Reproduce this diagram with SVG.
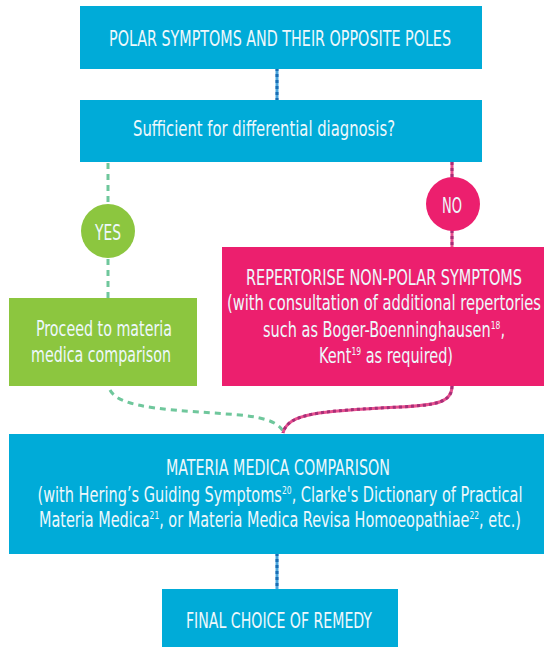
<svg xmlns="http://www.w3.org/2000/svg" width="544" height="647" viewBox="0 0 544 647">
<style>
.blue{fill:#00abd8}
.green{fill:#8cc63f}
.pink{fill:#ec1f6e}
text{font-family:"Liberation Sans Narrow","DejaVu Sans Condensed","Liberation Sans",sans-serif;font-size:21px;fill:#eef8fc;text-anchor:middle}
.sup{font-size:11px}
.bl{stroke:#4aa6de;stroke-width:3;fill:none}
.blo{stroke:#1a6db3;stroke-width:3;fill:none;stroke-dasharray:3 3}
.pk{stroke:#e8508f;stroke-width:3;fill:none}
.pko{stroke:#a52f78;stroke-width:3;fill:none;stroke-dasharray:3 3}
.gr{stroke:#6fc79c;stroke-width:3;fill:none;stroke-dasharray:6 5}
</style>
<g id="connectors">
<line class="bl" x1="277" y1="68" x2="277" y2="101"/>
<line class="blo" x1="277" y1="68" x2="277" y2="101"/>
<line class="gr" x1="108" y1="163" x2="108" y2="204"/>
<line class="gr" x1="108" y1="259" x2="108" y2="298"/>
<line class="pk" x1="452" y1="162" x2="452" y2="178"/>
<line class="pko" x1="452" y1="162" x2="452" y2="178"/>
<line class="pk" x1="452" y1="230" x2="452" y2="247"/>
<line class="pko" x1="452" y1="230" x2="452" y2="247"/>
<path class="gr" d="M110,390 C120,410 180,410 240,415 C270,418 280,424 284,433"/>
<path class="pk" d="M452,386 C452,402 438,405 400,407 C320,411 288,413 283,433"/>
<path class="pko" d="M452,386 C452,402 438,405 400,407 C320,411 288,413 283,433"/>
<line class="bl" x1="277" y1="553" x2="277" y2="589"/>
<line class="blo" x1="277" y1="553" x2="277" y2="589"/>
</g>
<g id="polar">
<rect class="blue" x="80" y="6" width="402" height="63"/>
<text x="280" y="46" textLength="342" lengthAdjust="spacingAndGlyphs">POLAR SYMPTOMS AND THEIR OPPOSITE POLES</text>
</g>
<g id="sufficient">
<rect class="blue" x="80" y="100" width="402" height="62"/>
<text x="264" y="136" textLength="262" lengthAdjust="spacingAndGlyphs">Sufficient for differential diagnosis?</text>
</g>
<g id="yes">
<circle class="green" cx="108" cy="231" r="27"/>
<text x="108" y="240" textLength="26" lengthAdjust="spacingAndGlyphs">YES</text>
</g>
<g id="no">
<circle class="pink" cx="453" cy="204" r="27"/>
<text x="452" y="213" textLength="20" lengthAdjust="spacingAndGlyphs">NO</text>
</g>
<g id="proceed">
<rect class="green" x="9" y="298" width="188" height="88"/>
<text x="104" y="336" textLength="136" lengthAdjust="spacingAndGlyphs">Proceed to materia</text>
<text x="101" y="362" textLength="140" lengthAdjust="spacingAndGlyphs">medica comparison</text>
</g>
<g id="repertorise">
<rect class="pink" x="222" y="247" width="322" height="139"/>
<text x="384" y="285" textLength="276" lengthAdjust="spacingAndGlyphs">REPERTORISE NON-POLAR SYMPTOMS</text>
<text x="384" y="310" textLength="314" lengthAdjust="spacingAndGlyphs">(with consultation of additional repertories</text>
<text x="384" y="337" textLength="242" lengthAdjust="spacingAndGlyphs">such as Boger-Boenninghausen<tspan class="sup" dy="-8">18</tspan><tspan dy="8">,</tspan></text>
<text x="386" y="363" textLength="134" lengthAdjust="spacingAndGlyphs">Kent<tspan class="sup" dy="-8">19</tspan><tspan dy="8"> as required)</tspan></text>
</g>
<g id="materia">
<rect class="blue" x="9" y="434" width="535" height="120"/>
<text x="278" y="475" textLength="224" lengthAdjust="spacingAndGlyphs">MATERIA MEDICA COMPARISON</text>
<text x="280" y="502" textLength="485" lengthAdjust="spacingAndGlyphs">(with Hering’s Guiding Symptoms<tspan class="sup" dy="-8">20</tspan><tspan dy="8">, Clarke's Dictionary of Practical</tspan></text>
<text x="280" y="527" textLength="482" lengthAdjust="spacingAndGlyphs">Materia Medica<tspan class="sup" dy="-8">21</tspan><tspan dy="8">, or Materia Medica Revisa Homoeopathiae</tspan><tspan class="sup" dy="-8">22</tspan><tspan dy="8">, etc.)</tspan></text>
</g>
<g id="final">
<rect class="blue" x="162" y="589" width="236" height="58"/>
<text x="279" y="628" textLength="186" lengthAdjust="spacingAndGlyphs">FINAL CHOICE OF REMEDY</text>
</g>
</svg>
